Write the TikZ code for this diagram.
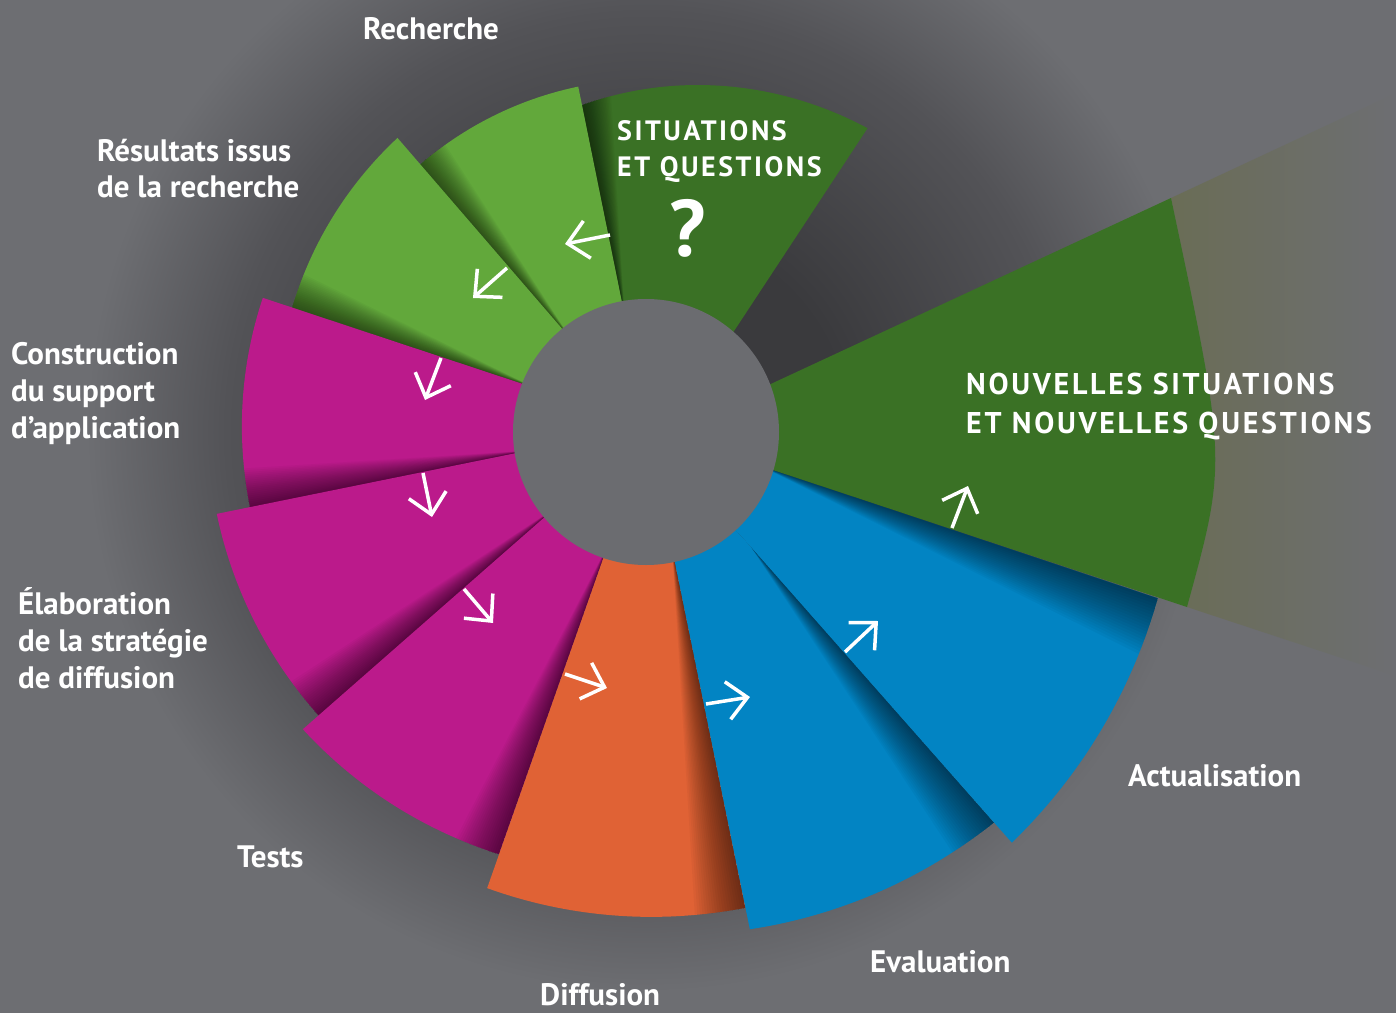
\documentclass[tikz,border=0pt]{standalone}
\usepackage{fontspec}
\setmainfont{PT Sans}
\newfontfamily\capsfont{PT Sans}[LetterSpace=9]
\usetikzlibrary{calc}
\usetikzlibrary{arrows.meta}
\definecolor{darkGreen}{HTML}{3a7125}
\definecolor{lightGreen}{HTML}{62a83b}
\definecolor{stepMagenta}{HTML}{bb1a8b}
\definecolor{stepOrange}{HTML}{e06235}
\definecolor{stepBlue}{HTML}{0284c3}
\definecolor{hubGrey}{HTML}{6b6c70}
\definecolor{bgMain}{HTML}{6d6e72}
\definecolor{bgMid}{HTML}{535357}
\definecolor{bgDark}{HTML}{3a3a3d}
\definecolor{fadeOlive}{HTML}{6a6d56}
\pgfdeclareradialshading{bgglow}{\pgfpoint{0bp}{0bp}}{color(0bp)=(bgDark); color(5bp)=(bgDark); color(10.5bp)=(bgMid); color(14bp)=(bgMain); color(50bp)=(bgMain)}
\newcommand{\petal}[7]{
    \fill[#1] (#2) -- (#3:#4) -- plot[domain=#3:#5, samples=40] (\x:{#4+(#6-#4)*(\x-#3)/(#5-#3)}) -- (#7) -- (0,0) -- cycle;
    \begin{scope}
        \clip (#2) -- (#3:#4) -- plot[domain=#3:#5, samples=40] (\x:{#4+(#6-#4)*(\x-#3)/(#5-#3)}) -- (#7) -- (0,0) -- cycle;
        \foreach \d [evaluate=\d as \rot using -0.4*\d] in {1,...,20}
            \fill[black, opacity=0.03] (#7) -- ($(#7)!1.2!(#5:#6)$) -- ($(#7)!1.2!\rot:(#5:#6)$) -- cycle;
    \end{scope}
}

\begin{document}
\begin{tikzpicture}[x=1pt, y=1pt,
    steptext/.style={white, inner sep=0pt, align=left, font=\fontsize{31}{36.6}\selectfont\bfseries},
    bigtext/.style={white, inner sep=0pt, align=left, font=\capsfont\fontsize{28}{36}\selectfont\bfseries},
    flow/.style={white, line width=3.5pt, -{Straight Barb[length=20pt, width=38pt]}}]
    \useasboundingbox (-646,-580) rectangle (750,432);

    % background glow
    \fill[bgMain] (-646,-580) rectangle (750,432);
    \shade[shading=bgglow] (0,0) circle (1000);

    % fading tail of the last step
    \shade[left color=fadeOlive, right color=bgMain] (541,-175) .. controls (581,-29.5) .. (525,234) -- (750,339) -- (750,-244) -- cycle;

    % steps, each one laid over the previous one
    \petal{darkGreen}{48:120}{53.9}{376}{101.1}{333}{100.4:120}
    \petal{lightGreen}{100.4:120}{101.1}{352}{130.2}{350}{128.9:120}
    \petal{lightGreen}{128.9:120}{130.2}{385}{160.7}{375}{158.4:120}
    \petal{stepMagenta}{158.4:120}{160.7}{406}{190.8}{403}{189:120}
    \petal{stepMagenta}{189:120}{190.8}{437}{220.9}{433}{219.9:120}
    \petal{stepMagenta}{219.9:120}{220.9}{454}{250.8}{447}{251.4:120}
    \petal{stepOrange}{251.4:120}{250.8}{483}{281.8}{486}{282.6:120}
    \petal{stepBlue}{282.6:120}{281.8}{508}{311.7}{523}{312.4:156}
    \petal{stepBlue}{312.4:156}{311.7}{550}{342}{538}{343.5:120}
    \fill[darkGreen] (-16.5:120) -- (541,-175) .. controls (581,-29.5) .. (525,234) -- (20.6:120) -- (0,0) -- cycle;

    \node[circle, fill=hubGrey, minimum size=266pt, inner sep=0pt] (hub) at (0,0) {};

    % flow arrows
    \coordinate (a1s) at (-36,197);  \coordinate (a1e) at (-81,188);
    \coordinate (a2s) at (-139,164); \coordinate (a2e) at (-173,134);
    \coordinate (a3s) at (-205,74);  \coordinate (a3e) at (-221,32);
    \coordinate (a4s) at (-223,-41); \coordinate (a4e) at (-214,-85);
    \coordinate (a5s) at (-182,-157); \coordinate (a5e) at (-153,-191);
    \coordinate (a6s) at (-81,-242); \coordinate (a6e) at (-39,-256);
    \coordinate (a7s) at (60,-272);  \coordinate (a7e) at (104,-265);
    \coordinate (a8s) at (199,-220); \coordinate (a8e) at (232,-189);
    \coordinate (a9s) at (306,-96);  \coordinate (a9e) at (322,-54);
    \draw[flow] (a1s) -- (a1e);
    \draw[flow] (a2s) -- (a2e);
    \draw[flow] (a3s) -- (a3e);
    \draw[flow] (a4s) -- (a4e);
    \draw[flow] (a5s) -- (a5e);
    \draw[flow] (a6s) -- (a6e);
    \draw[flow] (a7s) -- (a7e);
    \draw[flow] (a8s) -- (a8e);
    \draw[flow] (a9s) -- (a9e);

    % labels (base = last line)
    \node[bigtext, anchor=base west] (situations) at (-29,255) {SITUATIONS\\ET QUESTIONS};
    \node[white, inner sep=0pt, anchor=base, font=\fontsize{80}{80}\selectfont\bfseries] (question) at (42,175) {?};
    \node[bigtext, anchor=base west, font=\capsfont\fontsize{30}{39}\selectfont\bfseries] (nouvelles) at (320,-1) {NOUVELLES SITUATIONS\\ET NOUVELLES QUESTIONS};
    \node[steptext, anchor=base west] (recherche) at (-283,392) {Recherche};
    \node[steptext, anchor=base west] (resultats) at (-549,234) {Résultats issus\\de la recherche};
    \node[steptext, anchor=base west] (construction) at (-635,-6) {Construction\\du support\\d’application};
    \node[steptext, anchor=base west] (elaboration) at (-628,-256) {Élaboration\\de la stratégie\\de diffusion};
    \node[steptext, anchor=base west] (tests) at (-409,-435) {Tests};
    \node[steptext, anchor=base west] (diffusion) at (-106,-573) {Diffusion};
    \node[steptext, anchor=base west] (evaluation) at (224,-540) {Evaluation};
    \node[steptext, anchor=base west] (actualisation) at (482,-354) {Actualisation};
\end{tikzpicture}
\end{document}
